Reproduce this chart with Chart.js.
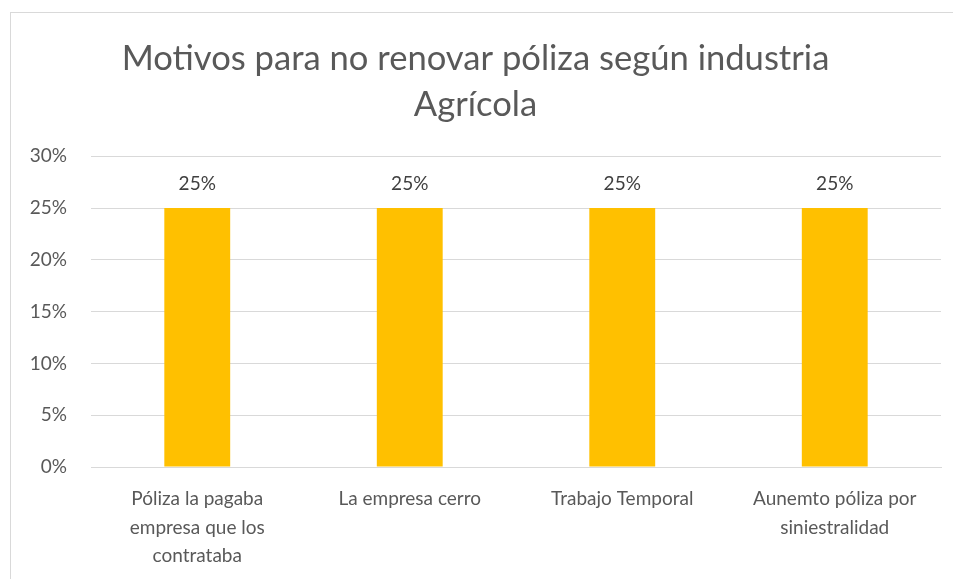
<!DOCTYPE html>
<html>
<head>
<meta charset="utf-8">
<script src="https://cdn.jsdelivr.net/npm/chart.js"></script>
<style>
html,body{margin:0;padding:0;background:#fff;overflow:hidden;}
#frame{position:absolute;left:10px;top:12px;width:1000px;height:700px;border:1px solid #d9d9d9;box-sizing:border-box;}
#wrap{position:absolute;left:10px;top:12px;width:968px;height:600px;}
</style>
</head>
<body>
<div id="frame"></div>
<div id="wrap"><canvas id="myChart"></canvas></div>
<script>
var categories=[["Póliza la pagaba","empresa que los","contrataba"],"La empresa cerro","Trabajo Temporal",["Aunemto póliza por","siniestralidad"]];
var values=[25,25,25,25];
var titleLines=["Motivos para no renovar póliza según industria","Agrícola"];

// etiquetas encima de cada barra
var barLabels={
id:"barLabels",
afterDatasetsDraw:function(chart){
var ctx=chart.ctx;
var meta=chart.getDatasetMeta(0);
ctx.save();
ctx.font="19px Lato";
ctx.fillStyle="#404040";
ctx.textAlign="center";
ctx.textBaseline="middle";
meta.data.forEach(function(bar,i){
ctx.fillText(values[i]+"%",bar.x,bar.y-24);
});
ctx.restore();
}
};

new Chart("myChart",{
type:"bar",
data:{
labels:categories,
datasets:[{
data:values,
backgroundColor:"#FFC000",
barPercentage:0.62,
categoryPercentage:0.5
}]
},
options:{
responsive:true,
maintainAspectRatio:false,
animation:false,
layout:{padding:{top:14,right:37,left:0,bottom:0}},
plugins:{
legend:{display:false},
tooltip:{enabled:false},
title:{
display:true,
text:titleLines,
color:"#595959",
font:{family:"Lato",size:34.6,weight:"normal",lineHeight:1.32},
padding:{top:10,bottom:29}
}
},
scales:{
x:{
grid:{display:false},
border:{color:"#d9d9d9",width:1},
ticks:{color:"#595959",font:{family:"Lato",size:19,lineHeight:1.5},maxRotation:0,autoSkip:false,padding:10},
afterFit:function(s){s.height=145;}
},
y:{
min:0,max:30,
ticks:{stepSize:5,color:"#595959",font:{family:"Lato",size:19},padding:24,callback:function(v){return v+"%";}},
grid:{color:"#d9d9d9",drawTicks:false},
border:{display:false},
afterFit:function(s){s.width=81;}
}
}
},
plugins:[barLabels]
});
</script>
</body>
</html>
